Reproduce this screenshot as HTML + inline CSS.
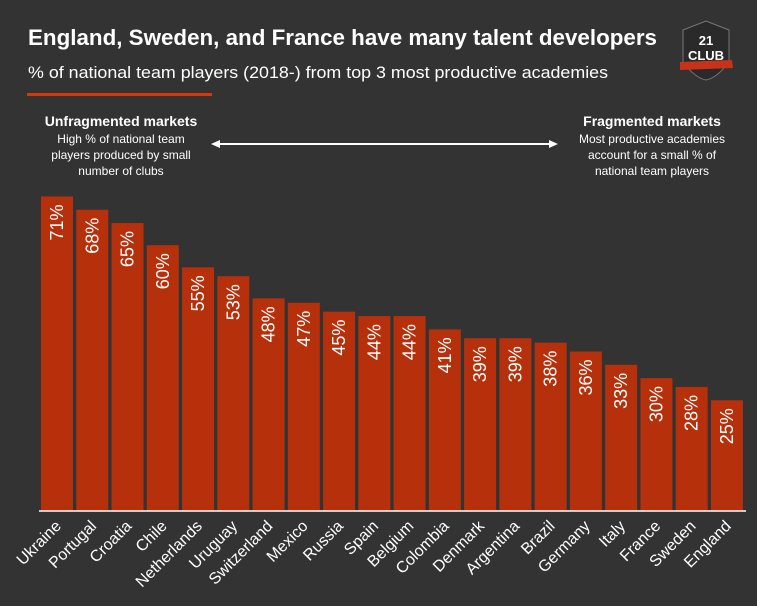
<!DOCTYPE html>
<html><head><meta charset="utf-8"><style>
html,body{margin:0;padding:0;background:#333333;}
svg{display:block;font-family:"Liberation Sans",sans-serif;}
</style></head><body>
<svg id="chart" width="757" height="606" viewBox="0 0 757 606" xmlns="http://www.w3.org/2000/svg">
<rect width="757" height="606" fill="#333333"/>
<text x="28" y="45" fill="#fff" font-size="22" font-weight="bold" textLength="629" lengthAdjust="spacingAndGlyphs">England, Sweden, and France have many talent developers</text>
<text x="28" y="78" fill="#fff" font-size="17" textLength="580" lengthAdjust="spacingAndGlyphs">% of national team players (2018-) from top 3 most productive academies</text>
<rect x="27" y="93" width="185" height="3" fill="#d4380d"/>
<g>
<path d="M683 30 L706 21 L729 30 L729 62 Q717 78 706 80 Q695 78 683 62 Z" fill="#2a2a2a" stroke="#777" stroke-width="1"/>
<text x="706" y="45" fill="#fff" font-size="13" font-weight="bold" text-anchor="middle">21</text>
<text x="706" y="60" fill="#fff" font-size="13" font-weight="bold" text-anchor="middle">CLUB</text>
<path d="M680 62 L732 60 L733 68 L680 70 Z" fill="#c8321a"/>
</g>
<g fill="#fff" text-anchor="middle">
<text x="121" y="126" font-size="14" font-weight="bold">Unfragmented markets</text>
<text x="121" y="143" font-size="12">High % of national team</text>
<text x="121" y="159" font-size="12">players produced by small</text>
<text x="121" y="175" font-size="12">number of clubs</text>
</g>
<g fill="#fff" text-anchor="middle">
<text x="652" y="126" font-size="14" font-weight="bold">Fragmented markets</text>
<text x="652" y="143" font-size="12">Most productive academies</text>
<text x="652" y="159" font-size="12">account for a small % of</text>
<text x="652" y="175" font-size="12">national team players</text>
</g>
<g>
<line x1="218" y1="144" x2="551" y2="144" stroke="#fff" stroke-width="2"/>
<path d="M211 144 L220 140 L220 148 Z" fill="#fff"/>
<path d="M558 144 L549 140 L549 148 Z" fill="#fff"/>
</g>
<g id="bars"></g>
<line x1="39" y1="511" x2="746" y2="511" stroke="#fff" stroke-width="1.5"/>
</svg>
<script>
const categories = ["Ukraine","Portugal","Croatia","Chile","Netherlands","Uruguay","Switzerland","Mexico","Russia","Spain","Belgium","Colombia","Denmark","Argentina","Brazil","Germany","Italy","France","Sweden","England"];
const values = [71,68,65,60,55,53,48,47,45,44,44,41,39,39,38,36,33,30,28,25];
const valueLabels = ["71%","68%","65%","60%","55%","53%","48%","47%","45%","44%","44%","41%","39%","39%","38%","36%","33%","30%","28%","25%"];
const NS = "http://www.w3.org/2000/svg";
const x0 = 41, pitch = 35.26, bw = 32, baseY = 511, pxPer = 4.43;
const xScale = i => x0 + i * pitch;
const yScale = v => baseY - v * pxPer;
const g = document.getElementById('bars');
categories.forEach((c, i) => {
  const x = xScale(i), y = yScale(values[i]);
  const r = document.createElementNS(NS, 'rect');
  r.setAttribute('x', x); r.setAttribute('y', y);
  r.setAttribute('width', bw); r.setAttribute('height', baseY - y);
  r.setAttribute('fill', '#b5300b');
  
  
  g.appendChild(r);
  const t = document.createElementNS(NS, 'text');
  const cx = x + bw / 2 + 6, ty = y + 8;
  t.setAttribute('transform', `translate(${cx},${ty}) rotate(-90)`);
  t.setAttribute('text-anchor', 'end');
  t.setAttribute('fill', '#fff');
  t.setAttribute('font-size', '18');
  t.textContent = valueLabels[i];
  
  
  g.appendChild(t);
  const l = document.createElementNS(NS, 'text');
  const lx = x + bw / 2 + 5, ly = 527;
  l.setAttribute('transform', `translate(${lx},${ly}) rotate(-45)`);
  l.setAttribute('text-anchor', 'end');
  l.setAttribute('fill', '#fff');
  l.setAttribute('font-size', '16');
  l.textContent = c;
  
  
  g.appendChild(l);
});
</script>
</body></html>
